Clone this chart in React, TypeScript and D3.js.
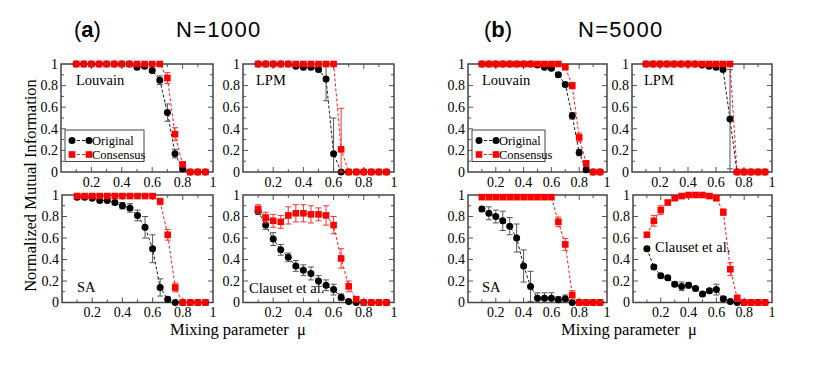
import React from "react";
import * as d3 from "d3";

// mixing parameter values, shared by every panel
const mu = [0.1, 0.15, 0.2, 0.25, 0.3, 0.35, 0.4, 0.45, 0.5, 0.55, 0.6, 0.65, 0.7, 0.75, 0.8, 0.85, 0.9, 0.95];

// (a) N=1000
const louvainA = [1, 1, 1, 1, 1, 1, 1, 1, 0.97, 0.98, 0.94, 0.85, 0.55, 0.17, 0.03, 0, 0, 0];
const louvainAErr = [0, 0, 0, 0, 0, 0, 0, 0, 0.01, 0.01, 0.02, 0.04, 0.08, 0.04, 0.02, 0, 0, 0];
const louvainACons = [1, 1, 1, 1, 1, 1, 1, 1, 1, 1, 1, 1, 0.87, 0.35, 0.07, 0, 0, 0];
const louvainAConsErr = [0, 0, 0, 0, 0, 0, 0, 0, 0, 0, 0, 0, 0.05, 0.06, 0.02, 0, 0, 0];

const lpmA = [1, 1, 1, 1, 1, 0.98, 0.97, 0.97, 0.95, 0.86, 0.17, 0, 0, 0, 0, 0, 0, 0];
const lpmAErr = [0, 0, 0, 0, 0, 0.01, 0.01, 0.01, 0.02, 0.2, 0.33, 0, 0, 0, 0, 0, 0, 0];
const lpmACons = [1, 1, 1, 1, 1, 1, 1, 1, 1, 1, 1, 0.21, 0, 0, 0, 0, 0, 0];
const lpmAConsErr = [0, 0, 0, 0, 0, 0, 0, 0, 0, 0, 0, 0.38, 0, 0, 0, 0, 0, 0];

const saA = [0.98, 0.98, 0.97, 0.95, 0.95, 0.93, 0.9, 0.88, 0.81, 0.7, 0.5, 0.14, 0.03, 0, 0, 0, 0, 0];
const saAErr = [0.02, 0.01, 0.01, 0.01, 0.01, 0.01, 0.03, 0.04, 0.05, 0.1, 0.13, 0.08, 0.02, 0.01, 0, 0, 0, 0];
const saACons = [0.99, 0.99, 0.99, 0.99, 0.99, 0.99, 0.99, 0.99, 0.99, 0.99, 0.99, 0.94, 0.63, 0.14, 0, 0, 0, 0];
const saAConsErr = [0.01, 0.01, 0.01, 0.01, 0.01, 0.01, 0.01, 0.01, 0.01, 0.01, 0.01, 0.03, 0.05, 0.04, 0, 0, 0, 0];

const clausetA = [0.85, 0.72, 0.59, 0.49, 0.42, 0.34, 0.3, 0.27, 0.2, 0.16, 0.12, 0.05, 0.01, 0, 0, 0, 0, 0];
const clausetAErr = [0.03, 0.04, 0.06, 0.05, 0.04, 0.05, 0.05, 0.06, 0.05, 0.05, 0.05, 0.03, 0.01, 0.01, 0, 0, 0, 0];
const clausetACons = [0.87, 0.79, 0.76, 0.75, 0.81, 0.83, 0.83, 0.82, 0.82, 0.81, 0.72, 0.41, 0.15, 0.03, 0, 0, 0, 0];
const clausetAConsErr = [0.04, 0.05, 0.06, 0.06, 0.08, 0.08, 0.08, 0.08, 0.06, 0.09, 0.08, 0.09, 0.05, 0.02, 0, 0, 0, 0];

// (b) N=5000
const louvainB = [1, 1, 1, 1, 1, 1, 1, 1, 0.99, 0.97, 0.96, 0.9, 0.81, 0.52, 0.18, 0.02, 0, 0];
const louvainBErr = [0, 0, 0, 0, 0, 0, 0, 0, 0.01, 0.01, 0.01, 0.02, 0.02, 0.03, 0.03, 0.02, 0, 0];
const louvainBCons = [1, 1, 1, 1, 1, 1, 1, 1, 1, 1, 1, 1, 0.97, 0.8, 0.32, 0.08, 0, 0];
const louvainBConsErr = [0, 0, 0, 0, 0, 0, 0, 0, 0, 0, 0, 0, 0.01, 0.03, 0.04, 0.02, 0, 0];

const lpmB = [1, 1, 1, 1, 1, 1, 1, 1, 0.99, 0.98, 0.97, 0.95, 0.49, 0, 0, 0, 0, 0];
const lpmBErr = [0, 0, 0, 0, 0, 0, 0, 0, 0.01, 0.01, 0.01, 0.02, 0.46, 0, 0, 0, 0, 0];
const lpmBCons = [1, 1, 1, 1, 1, 1, 1, 1, 1, 1, 1, 1, 1, 0, 0, 0, 0, 0];
const lpmBConsErr = [0, 0, 0, 0, 0, 0, 0, 0, 0, 0, 0, 0, 0, 0, 0, 0, 0, 0];

const saB = [0.87, 0.83, 0.8, 0.76, 0.71, 0.6, 0.34, 0.15, 0.04, 0.04, 0.04, 0.025, 0.035, 0, 0, 0, 0, 0];
const saBErr = [0.02, 0.06, 0.06, 0.09, 0.08, 0.13, 0.15, 0.14, 0.05, 0.05, 0.05, 0.03, 0.035, 0, 0, 0, 0, 0];
const saBCons = [0.98, 0.98, 0.98, 0.98, 0.98, 0.98, 0.98, 0.98, 0.98, 0.98, 0.98, 0.75, 0.54, 0.07, 0, 0, 0, 0];
const saBConsErr = [0, 0, 0, 0, 0, 0, 0, 0, 0, 0, 0, 0.045, 0.055, 0.04, 0, 0, 0, 0];

const clausetB = [0.5, 0.33, 0.25, 0.23, 0.17, 0.15, 0.16, 0.13, 0.08, 0.11, 0.12, 0.035, 0.01, 0, 0, 0, 0, 0];
const clausetBErr = [0.02, 0.02, 0.015, 0.015, 0.02, 0.04, 0.025, 0.02, 0.02, 0.02, 0.05, 0.02, 0.01, 0, 0, 0, 0, 0];
const clausetBCons = [0.63, 0.76, 0.86, 0.93, 0.97, 0.99, 1, 1, 1, 0.99, 0.97, 0.84, 0.31, 0.04, 0, 0, 0, 0];
const clausetBConsErr = [0.02, 0.05, 0.04, 0.02, 0.02, 0.01, 0.01, 0.01, 0.01, 0.01, 0.02, 0.03, 0.06, 0.03, 0, 0, 0, 0];

const xTickLabels = ["0.2", "0.4", "0.6", "0.8", "1"];
const yTickLabels = ["0", "0.2", "0.4", "0.6", "0.8", "1"];
const legendNames = ["Original", "Consensus"];

const SERIF = "Liberation Serif, Times New Roman, serif";
const SANS = "Liberation Sans, Arial, Helvetica, sans-serif";
const RED = "#ff0000";

// panel boxes [x0, x1, y0 (top), y1 (bottom)]
const panels = [
  { box: [61, 213, 64, 172], name: "Louvain", lab: [76, 85], o: louvainA, oe: louvainAErr, c: louvainACons, ce: louvainAConsErr, legend: [65, 130, 79] },
  { box: [243, 394, 64, 172], name: "LPM", lab: [256, 85], o: lpmA, oe: lpmAErr, c: lpmACons, ce: lpmAConsErr },
  { box: [62, 213, 195, 302.5], name: "SA", lab: [77, 292], o: saA, oe: saAErr, c: saACons, ce: saAConsErr },
  { box: [243, 394, 195, 302.5], name: "Clauset et al.", lab: [249, 293], o: clausetA, oe: clausetAErr, c: clausetACons, ce: clausetAConsErr },
  { box: [468, 607, 64, 172], name: "Louvain", lab: [482, 85], o: louvainB, oe: louvainBErr, c: louvainBCons, ce: louvainBConsErr, legend: [472, 130, 73] },
  { box: [632, 772, 64, 172], name: "LPM", lab: [644, 85], o: lpmB, oe: lpmBErr, c: lpmBCons, ce: lpmBConsErr },
  { box: [468, 607, 195, 302.5], name: "SA", lab: [482, 292], o: saB, oe: saBErr, c: saBCons, ce: saBConsErr },
  { box: [633, 772, 195, 302.5], name: "Clauset et al.", lab: [655, 252], o: clausetB, oe: clausetBErr, c: clausetBCons, ce: clausetBConsErr },
];

const Series = ({ xs, ys, vals, errs, color, errColor, square }) => {
  const line = d3.line<number>().x((_, i) => xs(mu[i])).y((d) => ys(d));
  return (
    <g>
      <path d={line(vals) || ""} fill="none" stroke={color} strokeWidth={0.9} strokeDasharray="3,2" />
      {vals.map((v, i) => {
        const e = errs[i];
        if (!e) return null;
        const cx = xs(mu[i]);
        const lo = ys(Math.max(0, v - e));
        const hi = ys(Math.min(1, v + e));
        return (
          <g key={"e" + i} stroke={errColor} strokeWidth={1}>
            <line x1={cx} x2={cx} y1={lo} y2={hi} />
            <line x1={cx - 3} x2={cx + 3} y1={lo} y2={lo} />
            <line x1={cx - 3} x2={cx + 3} y1={hi} y2={hi} />
          </g>
        );
      })}
      {vals.map((v, i) =>
        square ? (
          <rect key={i} x={xs(mu[i]) - 3.3} y={ys(v) - 3.3} width={6.6} height={6.6} fill={color} />
        ) : (
          <circle key={i} cx={xs(mu[i])} cy={ys(v)} r={3.5} fill={color} />
        )
      )}
    </g>
  );
};

const Legend = ({ x, y, w }) => (
  <g>
    <rect x={x} y={y} width={w} height={31.5} fill="#fff" stroke="#444" strokeWidth={1} />
    {legendNames.map((n, i) => {
      const cy = y + 10.5 + i * 14;
      const color = i === 0 ? "#000" : RED;
      return (
        <g key={n}>
          <line x1={x + 7} x2={x + 24} y1={cy} y2={cy} stroke={color} strokeWidth={0.9} strokeDasharray="3,2" />
          {i === 0 ? (
            <>
              <circle cx={x + 7} cy={cy} r={3.5} fill="#000" />
              <circle cx={x + 24} cy={cy} r={3.5} fill="#000" />
            </>
          ) : (
            <>
              <rect x={x + 3.7} y={cy - 3.3} width={6.6} height={6.6} fill={RED} />
              <rect x={x + 20.7} y={cy - 3.3} width={6.6} height={6.6} fill={RED} />
            </>
          )}
          <text x={x + 27} y={cy + 4.5} fontFamily={SERIF} fontSize={12.5}>
            {n}
          </text>
        </g>
      );
    })}
  </g>
);

const Panel = ({ p }) => {
  const [x0, x1, y0, y1] = p.box;
  const xs = d3.scaleLinear().domain([0, 1]).range([x0, x1]);
  const ys = d3.scaleLinear().domain([0, 1]).range([y1, y0]);
  const ticks = d3.range(1, 10).map((d) => d / 10);
  const clipId = "clip" + x0 + "_" + y0;
  return (
    <g>
      <defs>
        <clipPath id={clipId}>
          <rect x={x0} y={y0 - 5} width={x1 - x0 + 5} height={y1 - y0 + 10} />
        </clipPath>
      </defs>
      {/* ticks inside the frame on all four sides */}
      <g stroke="#555" strokeWidth={1}>
        {ticks.map((t, i) => {
          const len = i % 2 === 1 ? 5 : 3;
          return (
            <g key={t}>
              <line x1={xs(t)} x2={xs(t)} y1={y1} y2={y1 - len} />
              <line x1={xs(t)} x2={xs(t)} y1={y0} y2={y0 + len} />
              <line x1={x0} x2={x0 + len} y1={ys(t)} y2={ys(t)} />
              <line x1={x1} x2={x1 - len} y1={ys(t)} y2={ys(t)} />
            </g>
          );
        })}
      </g>
      <rect x={x0} y={y0} width={x1 - x0} height={y1 - y0} fill="none" stroke="#444" strokeWidth={1.5} />
      <text x={p.lab[0]} y={p.lab[1]} fontFamily={SERIF} fontSize={14.5}>
        {p.name}
      </text>
      <g clipPath={`url(#${clipId})`}>
        <Series xs={xs} ys={ys} vals={p.o} errs={p.oe} color="#000" errColor="#555" square={false} />
        <Series xs={xs} ys={ys} vals={p.c} errs={p.ce} color={RED} errColor="#ff3030" square={true} />
      </g>
      {xTickLabels.map((l) => (
        <text key={l} x={xs(+l)} y={y1 + 14.5} textAnchor="middle" fontFamily={SERIF} fontSize={14}>
          {l}
        </text>
      ))}
      {yTickLabels.map((l) => (
        <text key={l} x={x0 - 3} y={ys(+l)} dy="0.34em" textAnchor="end" fontFamily={SERIF} fontSize={14}>
          {l}
        </text>
      ))}
      {p.legend && <Legend x={p.legend[0]} y={p.legend[1]} w={p.legend[2]} />}
    </g>
  );
};

export default function App() {
  return (
    <svg width={830} height={368} style={{ position: "absolute", left: 0, top: 0, background: "#fff" }}>
      <rect width={830} height={368} fill="#fff" />
      {panels.map((p, i) => (
        <Panel key={i} p={p} />
      ))}
      <text x={74} y={37} fontFamily={SANS} fontSize={22}>
        (<tspan fontWeight="bold">a</tspan>)
      </text>
      <text x={176} y={37} fontFamily={SANS} fontSize={22} letterSpacing={1.3}>
        N=1000
      </text>
      <text x={484} y={37} fontFamily={SANS} fontSize={22}>
        (<tspan fontWeight="bold">b</tspan>)
      </text>
      <text x={578} y={37} fontFamily={SANS} fontSize={22} letterSpacing={1.3}>
        N=5000
      </text>
      <text transform="translate(36,185.5) rotate(-90)" textAnchor="middle" fontFamily={SERIF} fontSize={16.5}>
        Normalized Mutual Information
      </text>
      <text x={238} y={335} textAnchor="middle" fontFamily={SERIF} fontSize={16.5} xmlSpace="preserve">
        Mixing parameter  μ
      </text>
      <text x={629} y={335} textAnchor="middle" fontFamily={SERIF} fontSize={16.5} xmlSpace="preserve">
        Mixing parameter  μ
      </text>
    </svg>
  );
}
